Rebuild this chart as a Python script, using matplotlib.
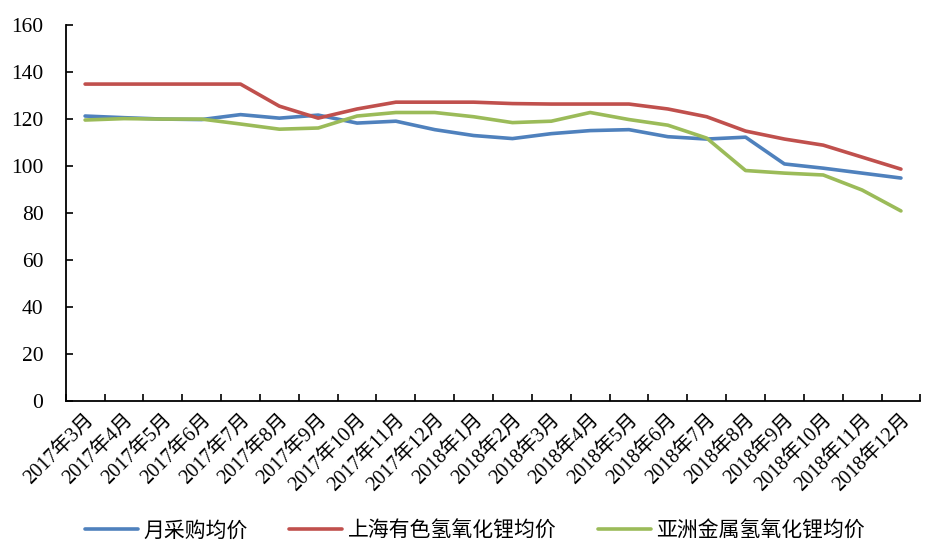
import matplotlib
matplotlib.use("Agg")
import matplotlib.pyplot as plt
import numpy as np

plt.rcParams['font.family'] = ['Liberation Serif', 'Noto Sans CJK SC']

# Month labels
months = ["2017年3月", "2017年4月", "2017年5月", "2017年6月", "2017年7月", "2017年8月",
          "2017年9月", "2017年10月", "2017年11月", "2017年12月", "2018年1月", "2018年2月",
          "2018年3月", "2018年4月", "2018年5月", "2018年6月", "2018年7月", "2018年8月",
          "2018年9月", "2018年10月", "2018年11月", "2018年12月"]

# Series values
monthly_purchase = [121.3, 120.6, 120.0, 119.8, 121.9, 120.4, 121.7, 118.3, 119.1, 115.5, 113.0,
                    111.7, 113.8, 115.1, 115.5, 112.5, 111.5, 112.3, 100.9, 99.1, 97.0, 94.9]
shanghai_ys = [134.9, 134.9, 134.9, 134.9, 134.9, 125.5, 120.4, 124.3, 127.2, 127.2, 127.2,
               126.6, 126.4, 126.4, 126.4, 124.3, 121.0, 114.9, 111.5, 108.9, 103.8, 98.7]
asian_metal = [119.6, 120.2, 120.0, 120.0, 117.9, 115.7, 116.2, 121.3, 122.8, 122.8, 121.0,
               118.5, 119.1, 122.8, 119.8, 117.4, 111.9, 98.1, 97.0, 96.2, 89.8, 80.9]

series_names = ["月采购均价", "上海有色氢氧化锂均价", "亚洲金属氢氧化锂均价"]
colors = ["#4F81BD", "#C0504D", "#9BBB59"]

fig = plt.figure(figsize=(9.25, 5.46), dpi=100)
ax = fig.add_axes([0.071, 0.2656, 0.924, 0.6884])

x = np.arange(len(months))
for vals, name, c in zip([monthly_purchase, shanghai_ys, asian_metal], series_names, colors):
    ax.plot(x, vals, color=c, linewidth=2.6, label=name, solid_capstyle='round')

ax.set_xlim(-0.5, len(months) - 0.5)
ax.set_ylim(0, 160)
ax.set_yticks(np.arange(0, 161, 20))
ax.tick_params(axis='y', direction='in', length=5, width=1.2, labelsize=15.5, pad=16)

# category labels at centers, tick marks on boundaries
ax.set_xticks(x)
ax.set_xticklabels(months, rotation=45, ha='right', rotation_mode='anchor', fontsize=14.5)
ax.tick_params(axis='x', which='major', length=0, pad=7)
ax.set_xticks(np.arange(-0.5, len(months), 1), minor=True)
ax.tick_params(axis='x', which='minor', direction='in', length=5, width=1.2)

for s in ['top', 'right']:
    ax.spines[s].set_visible(False)
for s in ['left', 'bottom']:
    ax.spines[s].set_linewidth(1.3)

fig.legend(loc='center', bbox_to_anchor=(0.5135, 0.027), ncol=3, frameon=False,
           fontsize=15, handlelength=2.55, columnspacing=2.0, handletextpad=0.25)

fig.savefig("out.png", dpi=100)
